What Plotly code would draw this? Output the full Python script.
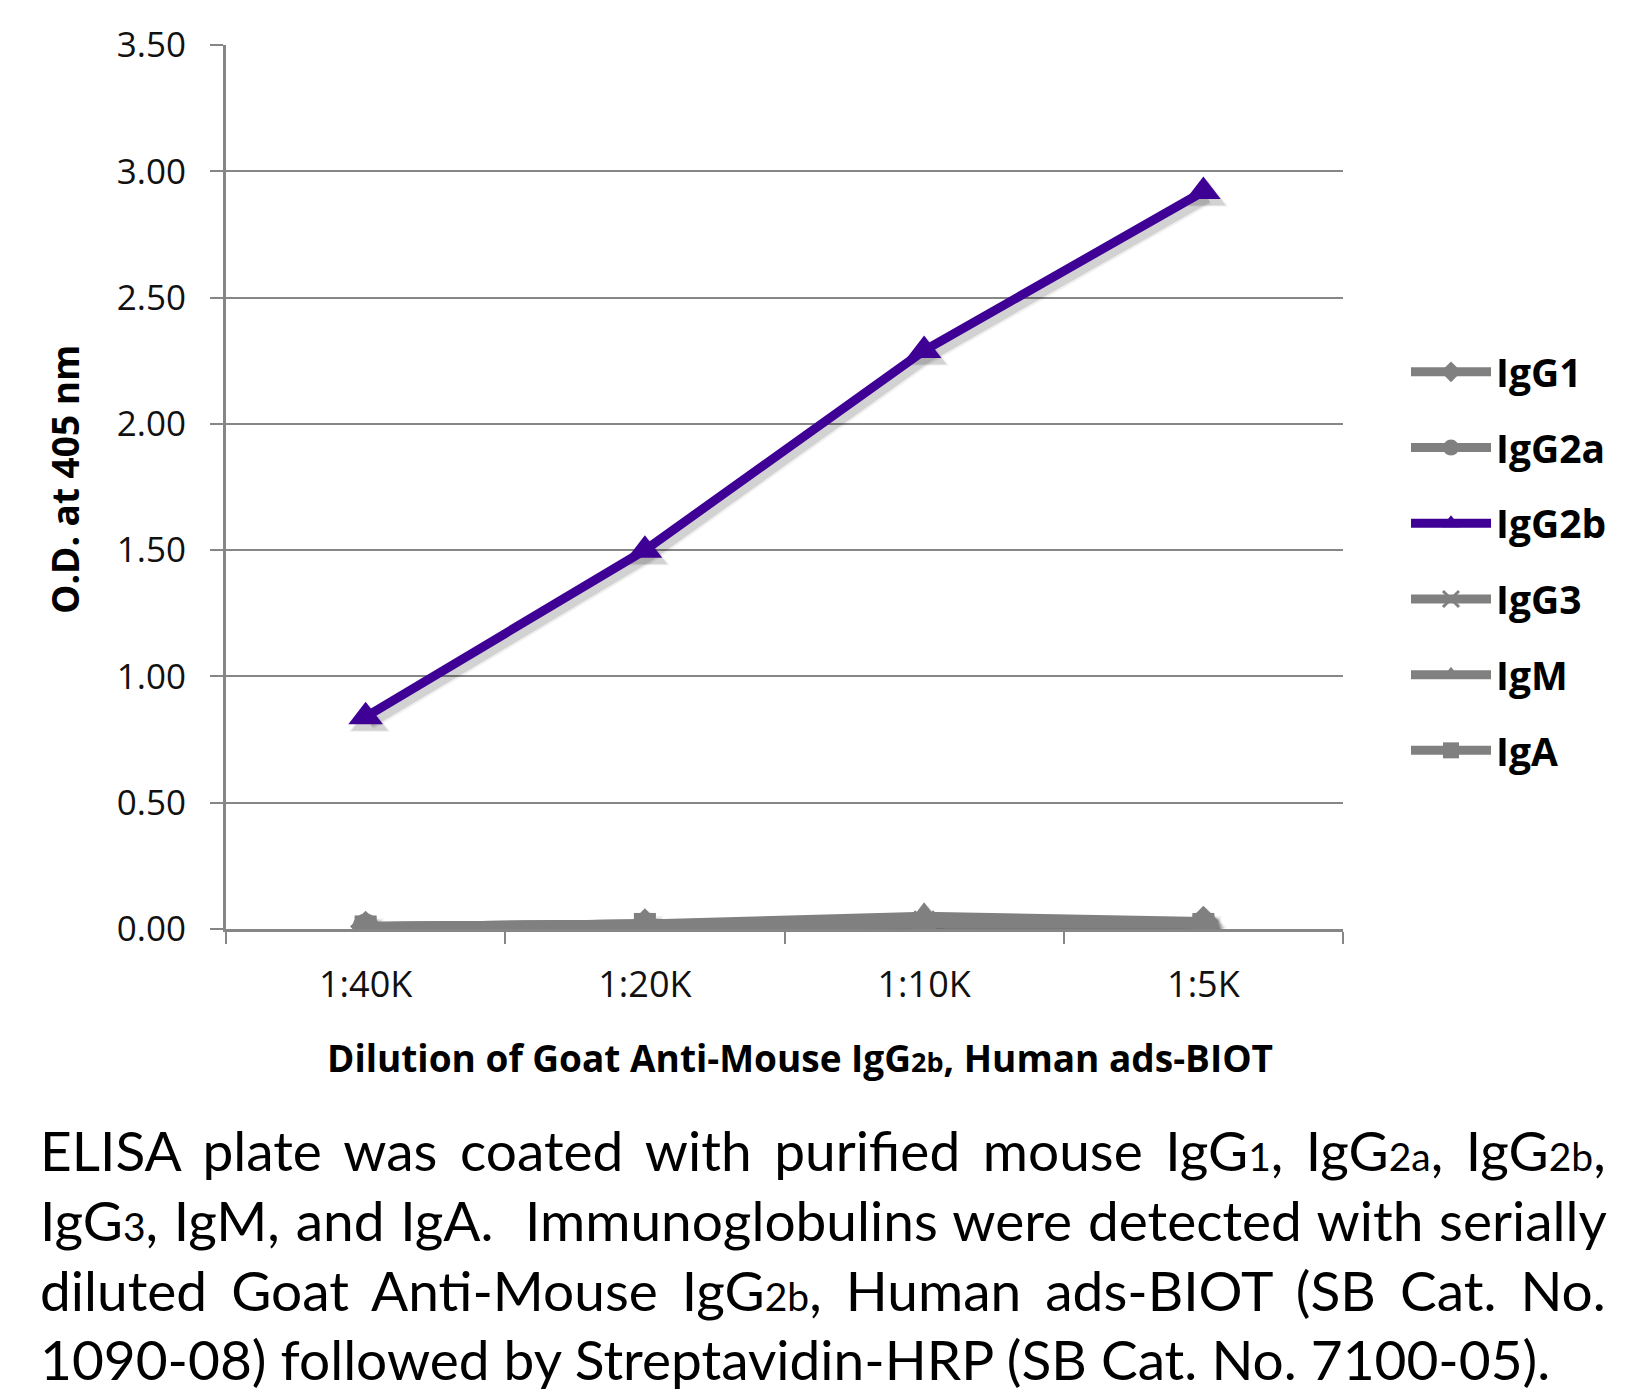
import plotly.graph_objects as go

# ---------------- data ----------------
dilutions = ["1:40K", "1:20K", "1:10K", "1:5K"]
series_names = ["IgG1", "IgG2a", "IgG2b", "IgG3", "IgM", "IgA"]
igg1 = [0.01, 0.02, 0.03, 0.03]
igg2a = [0.01, 0.01, 0.02, 0.02]
igg2b = [0.84, 1.50, 2.29, 2.92]
igg3 = [0.01, 0.02, 0.03, 0.02]
igm = [0.01, 0.02, 0.05, 0.03]
iga = [0.01, 0.02, 0.02, 0.02]
y_ticks = [0.0, 0.5, 1.0, 1.5, 2.0, 2.5, 3.0, 3.5]

values = [igg1, igg2a, igg2b, igg3, igm, iga]
symbols = ["diamond", "circle", "triangle-up", "x-thin", "triangle-up", "square"]
colors = ["#808080", "#808080", "#3f0096", "#808080", "#808080", "#808080"]
sizes = [24, 26, 30, 20, 28, 22]

W, H = 1652, 1394
ML, MR, MT, MB = 226, 309, 45, 465
PW = W - ML - MR
PH = H - MT - MB
Y_MAX = 3.5
X_RANGE = [-0.5, len(dilutions) - 0.5]

def px_x(px):
    return (px - ML) / PW

def px_y(py):
    return (H - MB - py) / PH

# drop-shadow offset in pixels (style)
SH_DX, SH_DY = 4, 6
cat_px = PW / len(dilutions)
dx = SH_DX / cat_px
dy = SH_DY * Y_MAX / PH

FONT = "Open Sans"

fig = go.Figure()
# invisible trace to register categories on the visible axes
fig.add_trace(go.Scatter(x=dilutions, y=igg2b, mode="none", showlegend=False,
                         hoverinfo="skip"))

# shadows (shifted overlay axes)
for vals, sym, sz in zip(values, symbols, sizes):
    for w_extra, alpha in [(6, 0.06), (2, 0.12)]:
        fig.add_trace(go.Scatter(
            x=dilutions, y=vals, mode="lines+markers", showlegend=False,
            hoverinfo="skip", xaxis="x2", yaxis="y2",
            line=dict(color="rgba(0,0,0,%.2f)" % alpha, width=9 + w_extra),
            marker=dict(symbol=sym, size=sz + w_extra,
                        color="rgba(0,0,0,%.2f)" % alpha, line=dict(width=0)),
        ))

# main series
for name, vals, sym, col, sz in zip(series_names, values, symbols, colors, sizes):
    fig.add_trace(go.Scatter(
        x=dilutions, y=vals, name=name, mode="lines+markers",
        legendgroup=name, xaxis="x3", yaxis="y3",
        line=dict(color=col, width=9),
        marker=dict(symbol=sym, size=sz, color=col,
                    line=dict(color=col, width=3 if sym == "x-thin" else 0)),
    ))

fig.update_layout(
    width=W, height=H,
    margin=dict(l=ML, r=MR, t=MT, b=MB),
    paper_bgcolor="white", plot_bgcolor="white",
    font=dict(family=FONT, color="#111111", size=35),
    showlegend=True,
    legend=dict(
        x=px_x(1406), y=px_y(340), xanchor="left", yanchor="top",
        font=dict(family=FONT, size=39, color="#000000", weight="bold"),
        itemwidth=80, tracegroupgap=22,
        bgcolor="rgba(0,0,0,0)",
    ),
    xaxis=dict(
        type="category", categoryarray=dilutions, range=X_RANGE,
        showline=True, linecolor="#868686", linewidth=3,
        ticks="outside", tickson="boundaries", ticklen=12, tickwidth=2, tickcolor="#868686",
        showgrid=False, tickfont=dict(size=36, color="#111111"),
        ticklabelstandoff=22,
    ),
    yaxis=dict(
        range=[0, Y_MAX], tickvals=y_ticks, tickformat=".2f",
        showline=True, linecolor="#868686", linewidth=3,
        ticks="outside", ticklen=13, tickwidth=2, tickcolor="#868686",
        showgrid=True, gridcolor="#868686", gridwidth=2,
        zeroline=False, tickfont=dict(size=35, color="#111111"),
        ticklabelstandoff=17,
    ),
    xaxis2=dict(type="category", categoryarray=dilutions, overlaying="x",
                range=[X_RANGE[0] - dx, X_RANGE[1] - dx], visible=False),
    yaxis2=dict(overlaying="y", range=[dy, Y_MAX + dy], visible=False),
    xaxis3=dict(type="category", categoryarray=dilutions, overlaying="x",
                range=X_RANGE, visible=False),
    yaxis3=dict(overlaying="y", range=[0, Y_MAX], visible=False),
)

# axis titles
fig.add_annotation(
    text="O.D. at 405 nm", textangle=-90,
    xref="paper", yref="paper", x=px_x(64), y=px_y(480),
    xanchor="center", yanchor="middle", showarrow=False,
    font=dict(family=FONT, size=37, color="#000000", weight="bold"),
)
fig.add_annotation(
    text="Dilution of Goat Anti-Mouse IgG<span style='font-size:27px'>2b</span>, Human ads-BIOT",
    xref="paper", yref="paper", x=px_x(800), y=px_y(1057),
    xanchor="center", yanchor="middle", showarrow=False,
    font=dict(family=FONT, size=37, color="#000000", weight="bold"),
)

sub = "<span style='font-size:39px'>{}</span>"
caption_lines = [
    "ELISA plate was coated with purified mouse IgG" + sub.format("1") + ", IgG" + sub.format("2a") + ", IgG" + sub.format("2b") + ",",
    "IgG" + sub.format("3") + ", IgM, and IgA.  Immunoglobulins were detected with serially",
    "diluted Goat Anti-Mouse IgG" + sub.format("2b") + ", Human ads-BIOT (SB Cat. No.",
    "1090-08) followed by Streptavidin-HRP (SB Cat. No. 7100-05).",
]
caption_wordspacing = [8.5, 1.7, 10, 0]
caption_centers = [1150, 1220, 1290, 1359]
for line, ws, cy in zip(caption_lines, caption_wordspacing, caption_centers):
    fig.add_annotation(
        text="<span style='word-spacing:%.1fpx'>%s</span>" % (ws, line),
        xref="paper", yref="paper",
        x=px_x(38), y=px_y(cy), xanchor="left", yanchor="middle",
        showarrow=False,
        font=dict(family="Lato", size=55, color="#000000"),
    )

fig.write_html("out.html", config={"displayModeBar": False},
               post_script="document.body.style.margin='0';")
